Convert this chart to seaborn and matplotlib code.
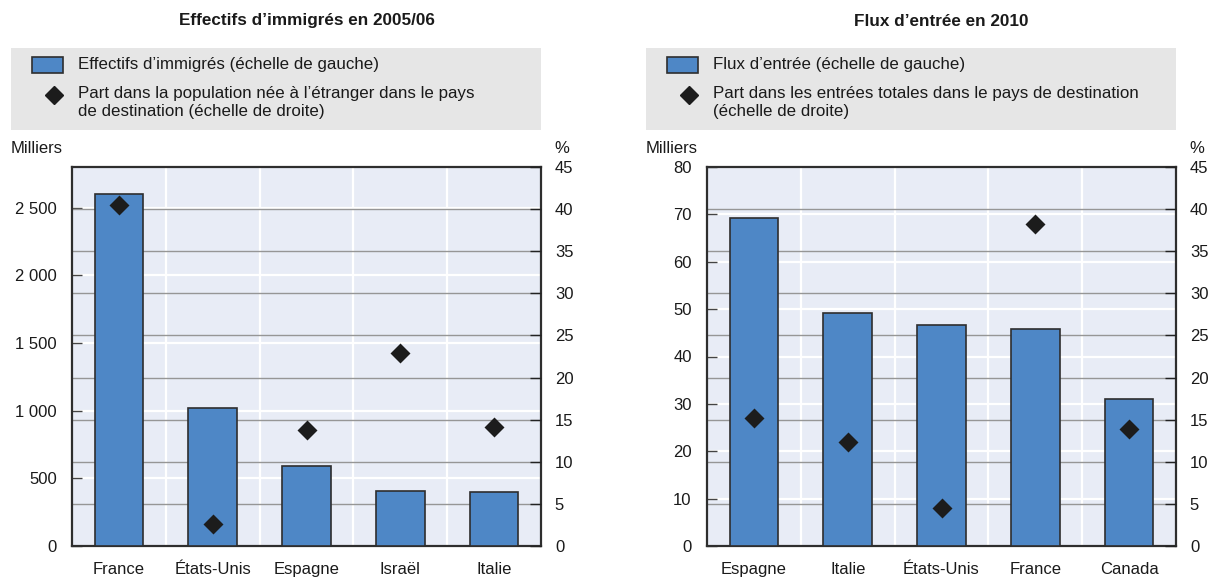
import matplotlib
matplotlib.use("Agg")
import matplotlib.pyplot as plt
import seaborn as sns
import numpy as np
import pandas as pd
from matplotlib.ticker import FuncFormatter, FixedLocator, MultipleLocator
from matplotlib.patches import Rectangle
from matplotlib.lines import Line2D

# ---------------- data ----------------
stock_countries = ["France", "États-Unis", "Espagne", "Israël", "Italie"]
stock_thousands = [2600, 1020, 590, 408, 398]
stock_share = [40.5, 2.6, 13.8, 22.9, 14.1]

flow_countries = ["Espagne", "Italie", "États-Unis", "France", "Canada"]
flow_thousands = [69.3, 49.1, 46.7, 45.7, 31.0]
flow_share = [15.2, 12.4, 4.5, 38.2, 13.9]

titles = ["Effectifs d’immigrés en 2005/06", "Flux d’entrée en 2010"]
bar_labels = ["Effectifs d’immigrés (échelle de gauche)", "Flux d’entrée (échelle de gauche)"]
share_labels = [
    "Part dans la population née à l’étranger dans le pays\nde destination (échelle de droite)",
    "Part dans les entrées totales dans le pays de destination\n(échelle de droite)",
]

# ---------------- style ----------------
sns.set_theme(style="white")
plt.rcParams["font.family"] = ["Liberation Sans Narrow", "Liberation Sans", "DejaVu Sans"]

W, H = 1212, 577
fig = plt.figure(figsize=(W / 100, H / 100), dpi=100)
fig.patch.set_facecolor("white")

BAR = "#4e87c6"
EDGE = "#2e2e2e"
BG = "#e8ecf6"
LEGBG = "#e6e6e6"
GRID2 = "#969696"
TXT = "#1a1a1a"
FS = 12
LFS = 12.2


def fx(px):
    return px / W


def fy(py):
    return 1 - py / H


def thousands(v, p):
    return f"{v:,.0f}".replace(",", " ")


def panel(lpx, rpx, cats, bars, share, ymax, ystep, fmt, title, bar_label, share_label, leg_l, leg_r):
    top, bot = 167, 546
    ax = fig.add_axes([fx(lpx), fy(bot), fx(rpx - lpx), (bot - top) / H])
    df = pd.DataFrame({"pays": cats, "valeur": bars, "part": share})
    sns.barplot(data=df, x="pays", y="valeur", color=BAR, saturation=1, width=0.52,
                edgecolor=EDGE, linewidth=1.2, ax=ax, zorder=3)
    ax.set_facecolor(BG)
    ax.set_axisbelow(True)
    ax.set_ylim(0, ymax)
    ax.set_xlim(-0.5, len(cats) - 0.5)
    ax.set_xlabel("")
    ax.set_ylabel("")
    ax.yaxis.set_major_locator(MultipleLocator(ystep))
    ax.yaxis.set_major_formatter(FuncFormatter(fmt))
    ax.yaxis.set_minor_locator(FixedLocator([p * ymax / 45 for p in range(5, 45, 5)]))
    ax.xaxis.set_minor_locator(FixedLocator([i + 0.5 for i in range(len(cats) - 1)]))
    ax.grid(axis="y", which="major", color="white", linewidth=1.6, zorder=1)
    ax.grid(axis="y", which="minor", color=GRID2, linewidth=1.0, zorder=1)
    ax.grid(axis="x", which="minor", color="white", linewidth=1.6, zorder=1)
    ax.grid(axis="x", which="major", visible=False)
    ax.tick_params(axis="x", which="major", length=0, pad=11.5, labelsize=FS, labelcolor=TXT)
    ax.tick_params(axis="x", which="minor", direction="in", length=8, width=1, color="#444444")
    ax.tick_params(axis="y", which="major", direction="in", length=7, width=1, color="#444444",
                   pad=11, labelsize=FS, labelcolor=TXT, left=True)
    ax.tick_params(axis="y", which="minor", length=0)
    for s in ax.spines.values():
        s.set_color(EDGE)
        s.set_linewidth(1.6)

    ax2 = ax.twinx()
    sns.pointplot(data=df, x="pays", y="part", color="#1c1c1c", markers="D", linestyles="none",
                  errorbar=None, markersize=8, ax=ax2, zorder=5)
    ax2.set_ylim(0, 45)
    ax2.yaxis.set_major_locator(MultipleLocator(5))
    ax2.set_ylabel("")
    ax2.grid(False)
    ax2.tick_params(axis="y", which="major", direction="in", length=8, width=1, color="#222222",
                    pad=10, labelsize=FS, labelcolor=TXT, right=True)
    for s in ax2.spines.values():
        s.set_visible(False)
    ax.set_xlim(-0.5, len(cats) - 0.5)

    # texts
    cx = (lpx + rpx) / 2
    fig.text(fx(cx), fy(21), title, ha="center", va="center", fontsize=12.3,
             fontweight="bold", color=TXT)
    fig.text(fx(lpx - 61), fy(148), "Milliers", ha="left", va="center", fontsize=FS, color=TXT)
    fig.text(fx(rpx + 21), fy(148), "%", ha="center", va="center", fontsize=FS, color=TXT)

    # legend (box + handles)
    fig.add_artist(Rectangle((fx(leg_l), fy(130)), fx(leg_r - leg_l), (130 - 48) / H,
                             transform=fig.transFigure, facecolor=LEGBG, edgecolor="none", zorder=0))
    fig.add_artist(Rectangle((fx(leg_l + 21), fy(73)), fx(31), 16 / H, transform=fig.transFigure,
                             facecolor=BAR, edgecolor=EDGE, linewidth=1.2, zorder=1))
    fig.add_artist(Line2D([fx(leg_l + 43)], [fy(95)], marker="D", markersize=9, color="#1c1c1c",
                          linestyle="none", transform=fig.transFigure, zorder=1))
    fig.text(fx(leg_l + 67), fy(65), bar_label, ha="left", va="center", fontsize=LFS, color=TXT)
    fig.text(fx(leg_l + 67), fy(86), share_label, ha="left", va="top", fontsize=LFS, color=TXT,
             linespacing=1.25)
    return ax, ax2


ax_a, ax_a2 = panel(72, 541, stock_countries, stock_thousands, stock_share, 2800, 500, thousands,
                    titles[0], bar_labels[0], share_labels[0], 11, 541)
ax_b, ax_b2 = panel(707, 1176, flow_countries, flow_thousands, flow_share, 80, 10,
                    lambda v, p: f"{v:.0f}", titles[1], bar_labels[1], share_labels[1], 646, 1176)

fig.savefig("out.png", dpi=100)
